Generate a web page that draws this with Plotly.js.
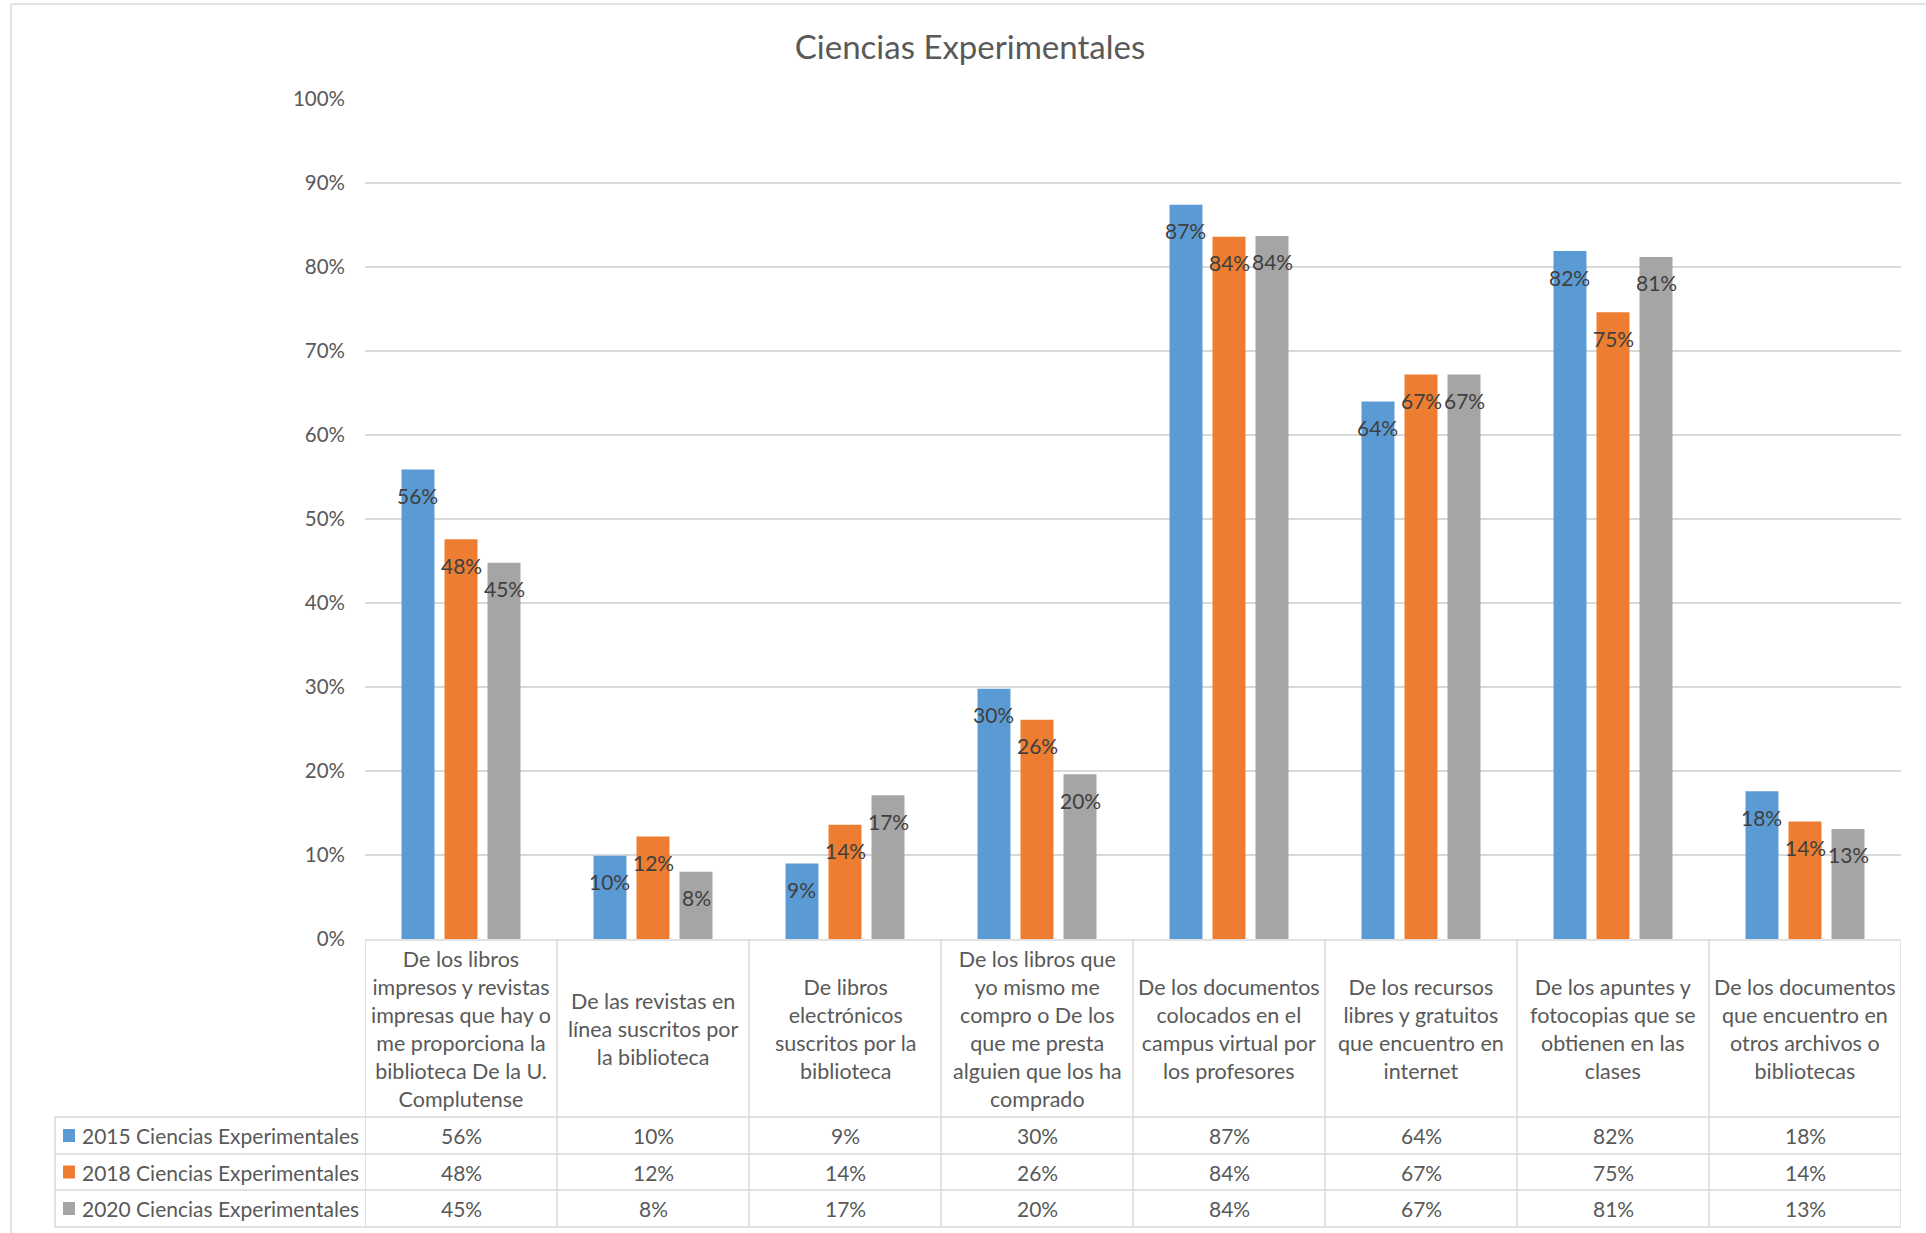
<!DOCTYPE html>
<html>
<head>
<meta charset="utf-8">
<script src="https://cdn.plot.ly/plotly-3.0.1.min.js"></script>
<style>html,body{margin:0;padding:0;background:#fff;}#chart{width:1926px;height:1233px;}</style>
</head>
<body>
<div id="chart"></div>
<script>
// ---- data ----
const categories = [
  "De los libros<br>impresos y revistas<br>impresas que hay o<br>me proporciona la<br>biblioteca De la U.<br>Complutense",
  "De las revistas en<br>línea suscritos por<br>la biblioteca",
  "De libros<br>electrónicos<br>suscritos por la<br>biblioteca",
  "De los libros que<br>yo mismo me<br>compro o De los<br>que me presta<br>alguien que los ha<br>comprado",
  "De los documentos<br>colocados en el<br>campus virtual por<br>los profesores",
  "De los recursos<br>libres y gratuitos<br>que encuentro en<br>internet",
  "De los apuntes y<br>fotocopias que se<br>obtienen en las<br>clases",
  "De los documentos<br>que encuentro en<br>otros archivos o<br>bibliotecas"
];
const seriesNames = ["2015 Ciencias Experimentales", "2018 Ciencias Experimentales", "2020 Ciencias Experimentales"];
const v2015 = [0.559, 0.099, 0.090, 0.298, 0.874, 0.640, 0.819, 0.176];
const v2018 = [0.476, 0.122, 0.136, 0.261, 0.836, 0.672, 0.746, 0.140];
const v2020 = [0.448, 0.080, 0.171, 0.196, 0.837, 0.672, 0.812, 0.131];
const seriesColors = ["#5B9BD5", "#ED7D31", "#A5A5A5"];
const chartTitle = "Ciencias Experimentales";

// ---- layout geometry ----
const W = 1926, H = 1233;
const L = 365, R = 1901, T = 99, B = 939;
const plotW = R - L, plotH = B - T;
const bargap = 0.328, bargroupgap = 0.233;
const FONT = "Lato, 'Open Sans', sans-serif";
const gridCol = "#D9D9D9";
const textCol = "#595959";

const allSeries = [v2015, v2018, v2020];
const fmt = v => Math.round(v * 100) + "%";
const py = px => (B - px) / plotH;      // pixel y -> paper y
const pxX = px => (px - L) / plotW;     // pixel x -> paper x

const traces = allSeries.map((vals, s) => ({
  type: "bar",
  name: seriesNames[s],
  x: categories,
  y: vals,
  marker: {color: seriesColors[s]},
  hoverinfo: "none",
  showlegend: false
}));

const nCat = categories.length;
const catW = plotW / nCat;
const slot = (1 - bargap) * catW / allSeries.length;

const annotations = [];
const shapes = [];

// data labels on bars
allSeries.forEach((vals, s) => {
  vals.forEach((v, i) => {
    annotations.push({
      x: categories[i], y: v, xref: "x", yref: "y",
      xshift: (s - 1) * slot, yshift: -26,
      text: fmt(v), showarrow: false,
      xanchor: "center", yanchor: "middle",
      font: {family: FONT, size: 21, color: "#404040"}
    });
  });
});

// data table geometry (pixels)
const headTop = 940, headBot = 1117;
const rowEdges = [1117, 1154, 1190, 1227];
const tableLeft = 55;

// category header labels
categories.forEach((c, i) => {
  annotations.push({
    x: c, xref: "x", y: py((headTop + headBot) / 2), yref: "paper",
    text: c, showarrow: false, xanchor: "center", yanchor: "middle", align: "center",
    font: {family: FONT, size: 21.5, color: textCol}
  });
});

// table rows
allSeries.forEach((vals, s) => {
  const yc = py((rowEdges[s] + rowEdges[s + 1]) / 2);
  annotations.push({
    x: pxX(361), xref: "paper", y: yc, yref: "paper",
    text: seriesNames[s], showarrow: false, xanchor: "right", yanchor: "middle",
    font: {family: FONT, size: 21, color: textCol}
  });
  shapes.push({
    type: "rect", xref: "paper", yref: "paper",
    x0: pxX(63), x1: pxX(75), y0: yc - 6.5 / plotH, y1: yc + 6.5 / plotH,
    fillcolor: seriesColors[s], line: {width: 0}
  });
  vals.forEach((v, i) => {
    annotations.push({
      x: categories[i], xref: "x", y: yc, yref: "paper",
      text: fmt(v), showarrow: false, xanchor: "center", yanchor: "middle",
      font: {family: FONT, size: 21, color: textCol}
    });
  });
});

// table lines
for (let k = 0; k <= nCat; k++) {
  shapes.push({type: "line", xref: "x", yref: "paper", x0: k - 0.5, x1: k - 0.5,
    y0: py(headTop), y1: py(rowEdges[rowEdges.length - 1]), line: {color: gridCol, width: 1.5}});
}
shapes.push({type: "line", xref: "paper", yref: "paper", x0: pxX(tableLeft), x1: pxX(tableLeft),
  y0: py(rowEdges[0]), y1: py(rowEdges[rowEdges.length - 1]), line: {color: gridCol, width: 1.5}});
shapes.push({type: "line", xref: "x", yref: "paper", x0: -0.5, x1: nCat - 0.5,
  y0: py(headTop), y1: py(headTop), line: {color: gridCol, width: 1.5}});
rowEdges.forEach(e => {
  shapes.push({type: "line", xref: "paper", yref: "paper", x0: pxX(tableLeft), x1: 1,
    y0: py(e), y1: py(e), line: {color: gridCol, width: 1.5}});
});
// outer chart border (top / left)
shapes.push({type: "line", xref: "paper", yref: "paper", x0: pxX(11), x1: pxX(W + 5),
  y0: py(4), y1: py(4), line: {color: gridCol, width: 1.5}});
shapes.push({type: "line", xref: "paper", yref: "paper", x0: pxX(11), x1: pxX(11),
  y0: py(4), y1: py(H + 5), line: {color: gridCol, width: 1.5}});

const layout = {
  width: W, height: H,
  margin: {l: L, r: W - R, t: T, b: H - B, pad: 0},
  paper_bgcolor: "#fff", plot_bgcolor: "#fff",
  barmode: "group", bargap: bargap, bargroupgap: bargroupgap,
  title: {text: chartTitle, x: 970 / W, xref: "container", xanchor: "center",
    y: 1 - 47 / H, yref: "container", yanchor: "middle",
    font: {family: FONT, size: 33, color: textCol}},
  xaxis: {type: "category", range: [-0.5, nCat - 0.5], showticklabels: false,
    showgrid: false, zeroline: false, showline: false, ticks: "", fixedrange: true},
  yaxis: {range: [0, 1], dtick: 0.1, tickformat: ".0%", showgrid: true, gridcolor: gridCol,
    gridwidth: 1.5, zeroline: false, showline: false, ticks: "", ticklabelstandoff: 19,
    tickfont: {family: FONT, size: 20.5, color: textCol}, fixedrange: true},
  annotations: annotations,
  shapes: shapes,
  showlegend: false
};

Plotly.newPlot("chart", traces, layout, {displayModeBar: false, staticPlot: true});
</script>
</body>
</html>
